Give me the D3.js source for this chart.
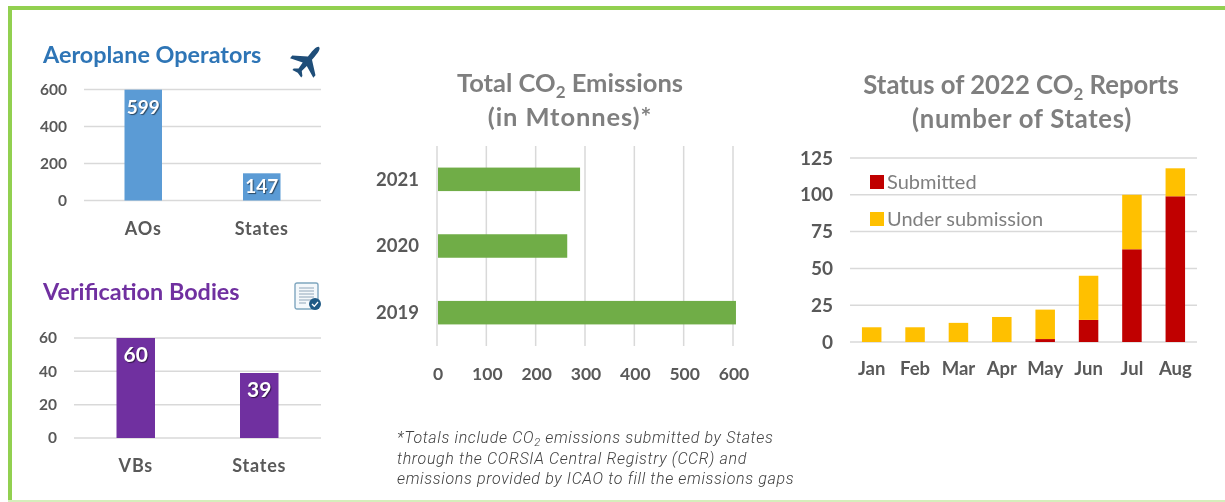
<!DOCTYPE html>
<html>
<head>
<meta charset="utf-8">
<script src="https://cdn.jsdelivr.net/npm/d3@7"></script>
<style>
  html, body { margin: 0; padding: 0; background: #fff; }
  svg { display: block; filter: blur(0.35px); }
  text { font-family: Lato, "Open Sans", sans-serif; }
</style>
</head>
<body>
<svg id="chart" width="1225" height="502"></svg>
<script>
const opCats = ['AOs', 'States'];
const opValues = [599, 147];
const opTicks = [0, 200, 400, 600];

const vbCats = ['VBs', 'States'];
const vbValues = [60, 39];
const vbTicks = [0, 20, 40, 60];

const emYears = ['2021', '2020', '2019'];
const emValues = [290, 264, 606];
const emTicks = [0, 100, 200, 300, 400, 500, 600];

const months = ['Jan', 'Feb', 'Mar', 'Apr', 'May', 'Jun', 'Jul', 'Aug'];
const submitted = [0, 0, 0, 0, 2, 15, 63, 99];
const underSubmission = [10, 10, 13, 17, 20, 30, 37, 19];
const statusTicks = [0, 25, 50, 75, 100, 125];

const footnote = [
  ['*Totals include CO', '2', ' emissions submitted by States'],
  ['through the CORSIA Central Registry (CCR) and'],
  ['emissions provided by ICAO to fill the emissions gaps']
];

const GRID = '#d9d9d9', TICK = '#595959', TITLE = '#7f7f7f';

const svg = d3.select('#chart');

// green frame, heavy on top and left, faint at the bottom
svg.append('rect').attr('x', 8).attr('y', 6).attr('width', 1217).attr('height', 4).attr('fill', '#92d050');
svg.append('rect').attr('x', 8).attr('y', 6).attr('width', 4).attr('height', 496).attr('fill', '#92d050');
svg.append('rect').attr('x', 8).attr('y', 500).attr('width', 1217).attr('height', 2).attr('fill', '#d5eebb');

// small column chart, used twice on the left
function columns(o) {
  const { cats, values, ticks, maxV, x0, x1, yTop, yBase, barW, color, labelSize, labelDy } = o;
  const x = d3.scaleBand().domain(cats).range([x0, x1]);
  const y = d3.scaleLinear().domain([0, maxV]).range([yBase, yTop]);
  const g = svg.append('g');

  g.selectAll('line.grid').data(ticks).join('line')
    .attr('x1', x0).attr('x2', x1)
    .attr('y1', d => y(d)).attr('y2', d => y(d))
    .attr('stroke', GRID).attr('stroke-width', 1.5);

  g.selectAll('text.tick').data(ticks).join('text')
    .attr('x', x0 - 17).attr('y', d => y(d)).attr('dy', '0.35em')
    .attr('text-anchor', 'end').attr('font-size', 15.5).attr('font-weight', 700)
    .attr('fill', TICK).text(d => d);

  g.selectAll('rect').data(values).join('rect')
    .attr('x', (d, i) => x(cats[i]) + x.bandwidth() / 2 - barW / 2)
    .attr('y', d => y(d))
    .attr('width', barW)
    .attr('height', d => yBase - y(d))
    .attr('fill', color);

  // value labels, the dark copy is the shadow
  const labels = g.selectAll('text.val').data(values).join('text')
    .attr('class', 'val')
    .attr('x', (d, i) => x(cats[i]) + x.bandwidth() / 2)
    .attr('y', (d, i) => y(d) + labelDy[i])
    .attr('dy', '0.35em')
    .attr('text-anchor', 'middle').attr('font-size', labelSize).attr('font-weight', 700)
    .attr('fill', '#fff').style('text-shadow', '1px 1px 1px rgba(0,0,0,0.55)')
    .text(d => d);

  g.selectAll('text.cat').data(cats).join('text')
    .attr('class', 'cat')
    .attr('x', d => x(d) + x.bandwidth() / 2)
    .attr('y', yBase + 34)
    .attr('text-anchor', 'middle').attr('font-size', 18).attr('font-weight', 700)
    .attr('letter-spacing', 0.8)
    .attr('fill', TICK).text(d => d);
}

svg.append('text').attr('x', 43).attr('y', 63).attr('font-size', 23.4).attr('font-weight', 700)
  .attr('fill', '#2e75b6').text('Aeroplane Operators');
columns({ cats: opCats, values: opValues, ticks: opTicks, maxV: 600, x0: 84, x1: 321, yTop: 89.5, yBase: 200.5,
  barW: 37.5, color: '#5b9bd5', labelSize: 19, labelDy: [18, 13.5] });

svg.append('text').attr('x', 43).attr('y', 300).attr('font-size', 23.4).attr('font-weight', 700)
  .attr('fill', '#7030a0').text('Verification Bodies');
columns({ cats: vbCats, values: vbValues, ticks: vbTicks, maxV: 60, x0: 74, x1: 321, yTop: 338, yBase: 438,
  barW: 38.5, color: '#7030a0', labelSize: 21, labelDy: [16.5, 17] });

// plane icon
svg.append('path')
  .attr('transform', 'translate(307.5,61) rotate(40) scale(0.95)')
  .attr('fill', '#1f4e79')
  .attr('d', 'M0,-19 C2.2,-19 2.8,-14 2.8,-9 L2.8,-4 L16,6 L16,9.5 L2.8,4.5 L2.2,12 L6,15.5 L6,17.5 L0,16 L-6,17.5 L-6,15.5 L-2.2,12 L-2.8,4.5 L-16,9.5 L-16,6 L-2.8,-4 L-2.8,-9 C-2.8,-14 -2.2,-19 0,-19 Z');

// report icon
const doc = svg.append('g').attr('transform', 'translate(295,283)');
doc.append('rect').attr('width', 23).attr('height', 26).attr('rx', 2)
  .attr('fill', '#f4f8fb').attr('stroke', '#7fa6bf').attr('stroke-width', 1.4);
doc.selectAll('line').data(d3.range(6)).join('line')
  .attr('x1', 4).attr('x2', d => d === 5 ? 11 : 19)
  .attr('y1', d => 5 + d * 3).attr('y2', d => 5 + d * 3)
  .attr('stroke', '#9fb4c4').attr('stroke-width', 1.2);
doc.append('circle').attr('cx', 20).attr('cy', 21).attr('r', 6).attr('fill', '#1f5a85');
doc.append('path').attr('d', 'M17,21 L19.3,23.3 L23,19').attr('fill', 'none')
  .attr('stroke', '#fff').attr('stroke-width', 1.3);

// centre panel: horizontal bars
const emTitle = svg.append('g').attr('fill', TITLE).attr('font-weight', 700).attr('font-size', 25.5);
const t1 = emTitle.append('text').attr('x', 570).attr('y', 92).attr('text-anchor', 'middle');
t1.append('tspan').text('Total CO');
t1.append('tspan').attr('dy', 6).attr('font-size', 17).text('2');
t1.append('tspan').attr('dy', -6).text(' Emissions');
emTitle.append('text').attr('x', 570).attr('y', 126).attr('text-anchor', 'middle')
  .attr('letter-spacing', 0.9).text('(in Mtonnes)*');

const emX = d3.scaleLinear().domain([0, 600]).range([437, 733]);
const emY = d3.scaleBand().domain(emYears).range([146, 346]);

svg.append('g').selectAll('line').data(emTicks).join('line')
  .attr('x1', d => emX(d)).attr('x2', d => emX(d))
  .attr('y1', 146).attr('y2', 346)
  .attr('stroke', GRID).attr('stroke-width', 1.5);

svg.append('g').selectAll('rect').data(emValues).join('rect')
  .attr('x', emX(0) + 1)
  .attr('y', (d, i) => emY(emYears[i]) + emY.bandwidth() / 2 - 11.75)
  .attr('width', d => emX(d) - emX(0) - 1)
  .attr('height', 23.5)
  .attr('fill', '#70ad47');

svg.append('g').selectAll('text').data(emYears).join('text')
  .attr('x', 419).attr('y', d => emY(d) + emY.bandwidth() / 2).attr('dy', '0.35em')
  .attr('text-anchor', 'end').attr('font-size', 18.5).attr('font-weight', 700)
  .attr('fill', TICK).text(d => d);

svg.append('g').selectAll('text').data(emTicks).join('text')
  .attr('x', d => emX(d) + 1).attr('y', 380)
  .attr('text-anchor', 'middle').attr('font-size', 17.5).attr('font-weight', 700)
  .attr('fill', TICK).text(d => d);

// right panel: stacked columns
const stTitle = svg.append('g').attr('fill', TITLE).attr('font-weight', 700).attr('font-size', 25.7);
const t2 = stTitle.append('text').attr('x', 1021).attr('y', 93.5).attr('text-anchor', 'middle');
t2.append('tspan').text('Status of 2022 CO');
t2.append('tspan').attr('dy', 6).attr('font-size', 17).text('2');
t2.append('tspan').attr('dy', -6).text(' Reports');
stTitle.append('text').attr('x', 1022).attr('y', 127.5).attr('text-anchor', 'middle')
  .attr('letter-spacing', 0.7).text('(number of States)');

const stX = d3.scaleBand().domain(months).range([850, 1197]);
const stY = d3.scaleLinear().domain([0, 125]).range([342, 158]);
const rows = months.map((m, i) => ({ month: m, submitted: submitted[i], under: underSubmission[i] }));
const stacked = d3.stack().keys(['submitted', 'under'])(rows);
const stColors = { submitted: '#c00000', under: '#ffc000' };

svg.append('g').selectAll('line').data(statusTicks).join('line')
  .attr('x1', 850).attr('x2', 1197)
  .attr('y1', d => stY(d)).attr('y2', d => stY(d))
  .attr('stroke', GRID).attr('stroke-width', 1.5);

svg.append('g').selectAll('g').data(stacked).join('g')
  .attr('fill', d => stColors[d.key])
  .selectAll('rect').data(d => d).join('rect')
  .attr('x', d => stX(d.data.month) + stX.bandwidth() / 2 - 9.75)
  .attr('y', d => stY(d[1]))
  .attr('width', 19.5)
  .attr('height', d => stY(d[0]) - stY(d[1]));

svg.append('g').selectAll('text').data(statusTicks).join('text')
  .attr('x', 833).attr('y', d => stY(d)).attr('dy', '0.35em')
  .attr('text-anchor', 'end').attr('font-size', 19).attr('font-weight', 700)
  .attr('fill', TICK).text(d => d);

svg.append('g').selectAll('text').data(months).join('text')
  .attr('x', d => stX(d) + stX.bandwidth() / 2).attr('y', 375)
  .attr('text-anchor', 'middle').attr('font-size', 18.5).attr('font-weight', 700)
  .attr('fill', TICK).text(d => d);

// legend sits inside the plot
const legend = [['Submitted', '#c00000', 182], ['Under submission', '#ffc000', 219]];
legend.forEach(([label, color, cy]) => {
  svg.append('rect').attr('x', 870).attr('y', cy - 7).attr('width', 14).attr('height', 14).attr('fill', color);
  svg.append('text').attr('x', 887).attr('y', cy).attr('dy', '0.35em')
    .attr('font-size', 20).attr('fill', TITLE).text(label);
});

// footnote
footnote.forEach((parts, i) => {
  const t = svg.append('text').attr('x', 397).attr('y', 443 + i * 20.5)
    .attr('font-size', 16).attr('font-style', 'italic').attr('fill', '#404040')
    .attr('letter-spacing', 0.65)
    .style('font-family', 'Roboto, sans-serif').style('font-weight', 300);
  t.append('tspan').text(parts[0]);
  if (parts.length > 1) {
    t.append('tspan').attr('dy', 3).attr('font-size', 11).text(parts[1]);
    t.append('tspan').attr('dy', -3).text(parts[2]);
  }
});
</script>
</body>
</html>
